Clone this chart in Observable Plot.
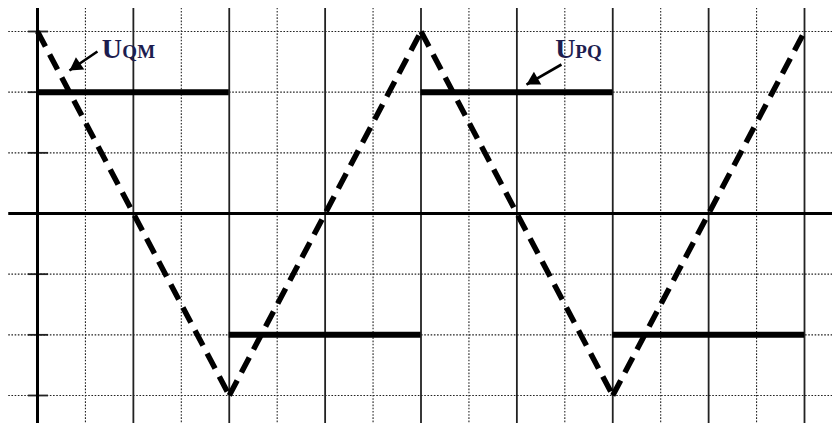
<!DOCTYPE html>
<html>
<head>
<meta charset="utf-8">
<script src="https://cdn.jsdelivr.net/npm/d3@7"></script>
<script src="https://cdn.jsdelivr.net/npm/@observablehq/plot@0.6"></script>
<style>
  html, body { margin: 0; padding: 0; background: #fff; }
  #chart svg { display: block; }
</style>
</head>
<body>
<div id="chart"></div>
<script>
// Time axis in grid units (one grid cell = 1), voltage in grid units.
const vertexT = [0, 4, 8, 12, 16];          // corners of the triangle wave
const vertexUQM = [3, -3, 3, -3, 3];        // U_QM at the corners

const stepStart = [0, 4, 8, 12];            // square wave U_PQ
const stepEnd = [4, 8, 12, 16];
const stepUPQ = [2, -2, 2, -2];

const xMajor = [0, 2, 4, 6, 8, 10, 12, 14, 16];   // solid vertical lines
const xMinor = [1, 3, 5, 7, 9, 11, 13, 15];       // dotted vertical lines
const yLevels = [3, 2, 1, -1, -2, -3];            // dotted horizontal lines

// Labels with leader arrows
const labelMain = ["U", "U"];
const labelSub = ["QM", "PQ"];
const labelX = [1.34, 10.8];
const labelSubX = [1.77, 11.22];
const labelY = [2.555, 2.555];
const arrowFromX = [1.25, 10.93];
const arrowFromY = [2.67, 2.456];
const arrowToX = [0.667, 10.2];
const arrowToY = [2.357, 2.126];

// Extent of the drawing paper beyond the data frame.
const paperX = [-0.6, 16.7];
const paperY = [-3.5, 3.38];

// Triangle wave as separate strokes so each dash pattern starts at a corner.
const triangle = [];
for (let i = 0; i < vertexT.length - 1; ++i) {
  triangle.push({t: vertexT[i], u: vertexUQM[i], seg: i});
  triangle.push({t: vertexT[i + 1], u: vertexUQM[i + 1], seg: i});
}
const steps = stepUPQ.map((u, i) => ({t1: stepStart[i], t2: stepEnd[i], u}));
const labels = labelMain.map((m, i) => ({
  main: m, sub: labelSub[i], x: labelX[i], xs: labelSubX[i], y: labelY[i],
  x1: arrowFromX[i], y1: arrowFromY[i], x2: arrowToX[i], y2: arrowToY[i]
}));

const ink = "#1d1d4f";
const dotted = {stroke: "#222", strokeWidth: 1.1, strokeDasharray: "1.6,1.6"};

// Arrowheads: filled triangles turned along each leader line.
const arrowMarks = labels.flatMap((d, i) => {
  const rot = [235.8, 240.2][i];
  const off = [[7.1, -4.8], [7.4, -4.2]][i];
  return [
    Plot.link([d], {x1: "x1", y1: "y1", x2: "x2", y2: "y2", stroke: "#000", strokeWidth: 2.6}),
    Plot.dot([d], {x: "x2", y: "y2", symbol: "triangle", r: 5.5, fill: "#000", stroke: "none", rotate: rot, dx: off[0], dy: off[1]})
  ];
});

const chart = Plot.plot({
  width: 832,
  height: 423,
  marginLeft: 37,
  marginRight: 28,
  marginTop: 31,
  marginBottom: 28,
  x: {domain: [0, 16], axis: null},
  y: {domain: [-3, 3], axis: null},
  style: {background: "#fff"},
  marks: [
    // dotted grid
    Plot.ruleY(yLevels, {x1: paperX[0], x2: paperX[1], ...dotted}),
    Plot.ruleX(xMinor, {y1: paperY[0], y2: paperY[1], ...dotted}),
    // solid verticals every two cells
    Plot.ruleX(xMajor.slice(1), {y1: paperY[0], y2: paperY[1], stroke: "#222", strokeWidth: 1.8}),
    // tick marks on the voltage axis
    Plot.ruleY(yLevels, {x1: -0.19, x2: 0.23, stroke: "#222", strokeWidth: 1.8}),
    // axes
    Plot.ruleY([0], {x1: paperX[0], x2: paperX[1], stroke: "#000", strokeWidth: 3}),
    Plot.ruleX([0], {y1: paperY[0], y2: paperY[1], stroke: "#000", strokeWidth: 3}),
    // U_PQ square wave
    Plot.ruleY(steps, {x1: "t1", x2: "t2", y: "u", stroke: "#000", strokeWidth: 6}),
    // U_QM triangle wave
    Plot.line(triangle, {x: "t", y: "u", z: "seg", stroke: "#000", strokeWidth: 5.5, strokeDasharray: "17,9", strokeLinecap: "butt"}),
    ...arrowMarks,
    Plot.text(labels, {x: "x", y: "y", text: "main", textAnchor: "start", lineAnchor: "bottom", fill: ink, fontFamily: "Liberation Serif", fontWeight: "bold", fontSize: 28}),
    Plot.text(labels, {x: "xs", y: "y", text: "sub", textAnchor: "start", lineAnchor: "bottom", fill: ink, fontFamily: "Liberation Serif", fontWeight: "bold", fontSize: 19})
  ]
});

document.getElementById("chart").append(chart);
</script>
</body>
</html>
